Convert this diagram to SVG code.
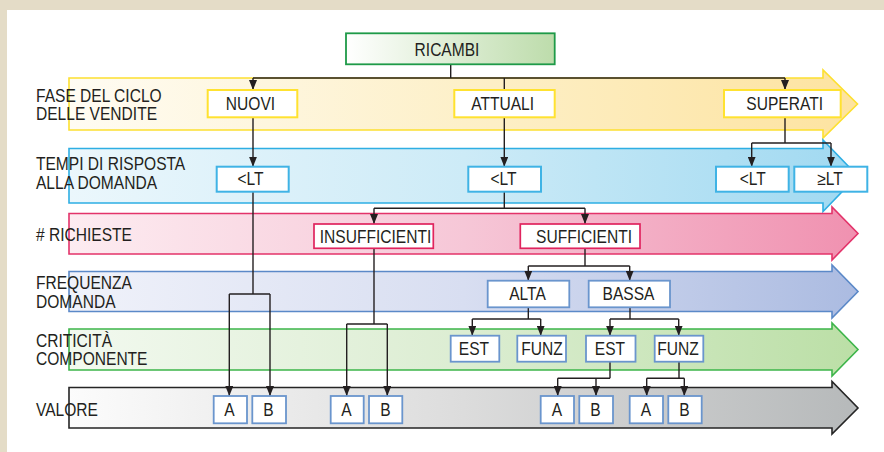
<svg xmlns="http://www.w3.org/2000/svg" width="884" height="452" viewBox="0 0 884 452">
<defs>
<linearGradient id="gY" x1="0" x2="1" y1="0" y2="0"><stop offset="0" stop-color="#fffcf3"/><stop offset="0.5" stop-color="#fdf0c9"/><stop offset="1" stop-color="#fde3a0"/></linearGradient>
<linearGradient id="gB" x1="0" x2="1" y1="0" y2="0"><stop offset="0" stop-color="#ebf7fc"/><stop offset="0.5" stop-color="#cdebf7"/><stop offset="1" stop-color="#a0d9f1"/></linearGradient>
<linearGradient id="gP" x1="0" x2="1" y1="0" y2="0"><stop offset="0" stop-color="#fdecf1"/><stop offset="0.5" stop-color="#f6c7d7"/><stop offset="1" stop-color="#f091b0"/></linearGradient>
<linearGradient id="gV" x1="0" x2="1" y1="0" y2="0"><stop offset="0" stop-color="#f0f2fa"/><stop offset="0.5" stop-color="#d8def1"/><stop offset="1" stop-color="#abbbe1"/></linearGradient>
<linearGradient id="gG" x1="0" x2="1" y1="0" y2="0"><stop offset="0" stop-color="#f2f9ef"/><stop offset="0.5" stop-color="#dcedd2"/><stop offset="1" stop-color="#bbdfa6"/></linearGradient>
<linearGradient id="gK" x1="0" x2="1" y1="0" y2="0"><stop offset="0" stop-color="#fcfcfc"/><stop offset="0.5" stop-color="#dcdcdc"/><stop offset="1" stop-color="#b6b9ba"/></linearGradient>
<linearGradient id="gR" x1="0" x2="1" y1="0" y2="0"><stop offset="0" stop-color="#ffffff"/><stop offset="1" stop-color="#bddcab"/></linearGradient>
<marker id="ah" viewBox="0 0 10 8" refX="10" refY="4" markerWidth="10" markerHeight="8" markerUnits="userSpaceOnUse" orient="auto"><path d="M0,0 L10,4 L0,8 Z" fill="#231f20"/></marker>
<style>
text{font-family:"Liberation Sans",Arial,sans-serif;font-size:17.5px;fill:#231f20}
.c{text-anchor:middle}
.band{stroke-width:1.6}
.box{fill:#fff}
.by{stroke:#ffe230;stroke-width:2}
.bb{stroke:#3fb3e5;stroke-width:2}
.bp{stroke:#e0245e;stroke-width:1.7}
.bv{stroke:#6a95cd;stroke-width:1.8}
.cn path{fill:none;stroke:#231f20;stroke-width:1.4}
.cn .a{marker-end:url(#ah)}
</style>
</defs>
<rect x="0" y="0" width="884" height="452" fill="#e4dcc7"/>
<rect x="7" y="10" width="877" height="442" fill="#ffffff"/>

<g id="bands">
<path class="band" d="M69,78 H823 V70 L857.5,104 L823,138 V130 H69 Z" fill="url(#gY)" stroke="#fde030"/>
<path class="band" d="M69,148.5 H823 V140 L857.5,175.8 L823,211.5 V203 H69 Z" fill="url(#gB)" stroke="#2eaee3"/>
<path class="band" d="M69,213.5 H832 V207 L858,233.5 L832,260 V254 H69 Z" fill="url(#gP)" stroke="#e3336a"/>
<path class="band" d="M69,271.5 H832 V265 L858,291.5 L832,318 V311.5 H69 Z" fill="url(#gV)" stroke="#5b89c8"/>
<path class="band" d="M69,329 H832 V323 L858,349.5 L832,376 V370 H69 Z" fill="url(#gG)" stroke="#3db54a"/>
<path class="band" d="M69,387.5 H832 V381.5 L858,408 L832,434 V428 H69 Z" fill="url(#gK)" stroke="#252525"/>
</g>

<g id="labels" transform="scale(0.89,1)">
<text x="40.45" y="101.7">FASE DEL CICLO</text>
<text x="40.45" y="120.2">DELLE VENDITE</text>
<text x="40.45" y="170">TEMPI DI RISPOSTA</text>
<text x="40.45" y="189.3">ALLA DOMANDA</text>
<text x="40.45" y="240.7"># RICHIESTE</text>
<text x="40.45" y="289.3">FREQUENZA</text>
<text x="40.45" y="308.3">DOMANDA</text>
<text x="40.45" y="346.7">CRITICITÀ</text>
<text x="40.45" y="365.3">COMPONENTE</text>
<text x="40.45" y="416">VALORE</text>
</g>

<g id="connectors" class="cn">
<path d="M450.7,64.3 V78"/>
<path d="M253,78 H785"/>
<path class="a" d="M253,78 V90"/>
<path class="a" d="M785,78 V90"/>
<path d="M504.3,78 V90"/>
<path class="a" d="M253,117.3 V166.7"/>
<path class="a" d="M504.3,117.3 V166.7"/>
<path d="M785,117.3 V143"/>
<path d="M751.7,143 H831"/>
<path class="a" d="M751.7,143 V166.7"/>
<path class="a" d="M831,143 V166.7"/>
<path d="M504.3,191.7 V208.3"/>
<path d="M374,208.3 H585"/>
<path class="a" d="M374,208.3 V224"/>
<path class="a" d="M585,208.3 V224"/>
<path d="M253,191.7 V294"/>
<path d="M229.3,294 H270"/>
<path class="a" d="M229.3,294 V396"/>
<path class="a" d="M270,294 V396"/>
<path d="M374,248.3 V324"/>
<path d="M346.7,324 H387.3"/>
<path class="a" d="M346.7,324 V396"/>
<path class="a" d="M387.3,324 V396"/>
<path d="M585,248.3 V266"/>
<path d="M528.3,266 H629.7"/>
<path class="a" d="M528.3,266 V280.7"/>
<path class="a" d="M629.7,266 V280.7"/>
<path d="M528.3,307.3 V319"/>
<path d="M472.3,319 H540.7"/>
<path class="a" d="M472.3,319 V335.7"/>
<path class="a" d="M540.7,319 V335.7"/>
<path d="M630,307.3 V319"/>
<path d="M610,319 H678.7"/>
<path class="a" d="M610,319 V335.7"/>
<path class="a" d="M678.7,319 V335.7"/>
<path d="M610,361.7 V378.3"/>
<path d="M557.7,378.3 H610"/>
<path class="a" d="M557.7,378.3 V396"/>
<path class="a" d="M596,378.3 V396"/>
<path d="M679,361.7 V378.3"/>
<path d="M646.7,378.3 H684.3"/>
<path class="a" d="M646.7,378.3 V396"/>
<path class="a" d="M684.3,378.3 V396"/>
</g>

<g id="ricambi"><rect x="346" y="33.3" width="208.7" height="31" fill="url(#gR)" stroke="#1e9a48" stroke-width="1.8"/><text class="c" transform="scale(0.89,1)" x="502.25" y="55.7">RICAMBI</text></g>

<g id="nuovi"><rect class="box by" x="207.7" y="90" width="89.6" height="27.3"/><text class="c" transform="scale(0.89,1)" x="281.46" y="109.7">NUOVI</text></g>
<g id="attuali"><rect class="box by" x="454.3" y="90" width="100.4" height="27.3"/><text class="c" transform="scale(0.89,1)" x="564.83" y="109.7">ATTUALI</text></g>
<g id="superati"><rect class="box by" x="724" y="90" width="116.7" height="27.3"/><text class="c" transform="scale(0.89,1)" x="881.69" y="109.7">SUPERATI</text></g>

<g id="lt1"><rect class="box bb" x="216.7" y="166.7" width="72" height="25"/><text class="c" transform="scale(0.89,1)" x="281.46" y="185.3">&lt;LT</text></g>
<g id="lt2"><rect class="box bb" x="468.3" y="166.7" width="72.7" height="25"/><text class="c" transform="scale(0.89,1)" x="565.73" y="185.3">&lt;LT</text></g>
<g id="lt3"><rect class="box bb" x="716" y="166.7" width="72.7" height="25"/><text class="c" transform="scale(0.89,1)" x="845.84" y="185.3">&lt;LT</text></g>
<g id="ge4"><rect class="box bb" x="794.3" y="166.7" width="73" height="25"/><text class="c" transform="scale(0.89,1)" x="932.58" y="185.3">≥LT</text></g>

<g id="insufficienti"><rect class="box bp" x="314" y="224" width="119.3" height="24.3"/><text class="c" transform="scale(0.89,1)" x="421.91" y="243.3">INSUFFICIENTI</text></g>
<g id="sufficienti"><rect class="box bp" x="520.3" y="224" width="119.7" height="24.3"/><text class="c" transform="scale(0.89,1)" x="656.18" y="243.3">SUFFICIENTI</text></g>

<g id="alta"><rect class="box bv" x="487.7" y="280.7" width="81.6" height="26.6"/><text class="c" transform="scale(0.89,1)" x="592.70" y="300.5">ALTA</text></g>
<g id="bassa"><rect class="box bv" x="588.7" y="280.7" width="81.3" height="26.6"/><text class="c" transform="scale(0.89,1)" x="706.18" y="300.5">BASSA</text></g>

<g id="est1"><rect class="box bv" x="450.7" y="335.7" width="48.6" height="26"/><text class="c" transform="scale(0.89,1)" x="532.58" y="355">EST</text></g>
<g id="funz1"><rect class="box bv" x="517.3" y="335.7" width="48.7" height="26"/><text class="c" transform="scale(0.89,1)" x="608.99" y="355">FUNZ</text></g>
<g id="est2"><rect class="box bv" x="586" y="335.7" width="49.5" height="26"/><text class="c" transform="scale(0.89,1)" x="685.39" y="355">EST</text></g>
<g id="funz2"><rect class="box bv" x="654.7" y="335.7" width="48.6" height="26"/><text class="c" transform="scale(0.89,1)" x="761.80" y="355">FUNZ</text></g>

<g id="a1"><rect class="box bv" x="213.7" y="396" width="33.3" height="27.3"/><text class="c" transform="scale(0.89,1)" x="257.87" y="416">A</text></g>
<g id="b1"><rect class="box bv" x="252.3" y="396" width="33.7" height="27.3"/><text class="c" transform="scale(0.89,1)" x="301.69" y="416">B</text></g>
<g id="a2"><rect class="box bv" x="330.7" y="396" width="33" height="27.3"/><text class="c" transform="scale(0.89,1)" x="389.33" y="416">A</text></g>
<g id="b2"><rect class="box bv" x="369" y="396" width="33.3" height="27.3"/><text class="c" transform="scale(0.89,1)" x="433.15" y="416">B</text></g>
<g id="a3"><rect class="box bv" x="540.7" y="396" width="33.3" height="27.3"/><text class="c" transform="scale(0.89,1)" x="625.84" y="416">A</text></g>
<g id="b3"><rect class="box bv" x="579.3" y="396" width="33.7" height="27.3"/><text class="c" transform="scale(0.89,1)" x="669.10" y="416">B</text></g>
<g id="a4"><rect class="box bv" x="629.7" y="396" width="33.3" height="27.3"/><text class="c" transform="scale(0.89,1)" x="725.84" y="416">A</text></g>
<g id="b4"><rect class="box bv" x="668.3" y="396" width="33.4" height="27.3"/><text class="c" transform="scale(0.89,1)" x="769.10" y="416">B</text></g>
</svg>
